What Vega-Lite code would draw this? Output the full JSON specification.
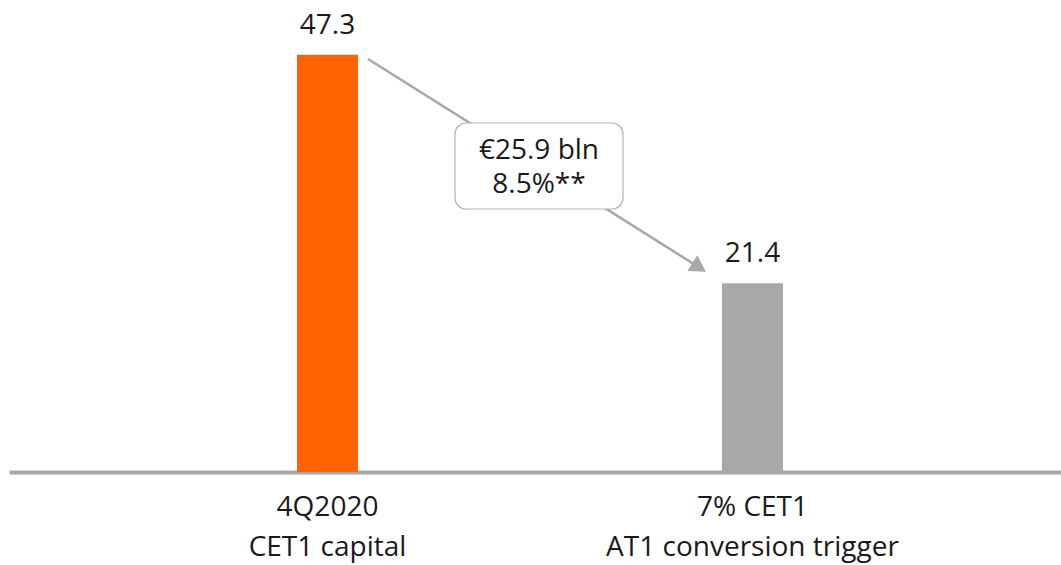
{
  "$schema": "https://vega.github.io/schema/vega-lite/v6.json",
  "width": 1052,
  "height": 472,
  "padding": {"left": 9, "top": 0, "right": 0, "bottom": 93},
  "autosize": {"type": "none"},
  "background": "white",
  "config": {"view": {"stroke": null}, "font": "Open Sans"},
  "datasets": {
    "bars": [
      {"category": "4Q2020|CET1 capital", "value": 47.3, "kind": "current"},
      {"category": "7% CET1|AT1 conversion trigger", "value": 21.4, "kind": "trigger"}
    ],
    "arrow": [
      {"pos": 1.0953, "level": 46.83},
      {"pos": 1.8744, "level": 23.2}
    ],
    "arrowhead": [
      {"pos": 1.8744, "level": 23.2}
    ],
    "box": [
      {"pos": 1.3, "pos2": 1.6953, "level": 39.57, "level2": 29.82, "pos_text": 1.4976, "level_text": 36.4, "label": "€25.9 bln|8.5%**"}
    ]
  },
  "layer": [
    {
      "data": {"name": "bars"},
      "encoding": {
        "x": {
          "field": "category",
          "type": "nominal",
          "sort": null,
          "scale": {"paddingInner": 0.85647, "paddingOuter": 0.6659, "align": 0.5088},
          "axis": {
            "title": null,
            "labelAngle": 0,
            "labelExpr": "split(datum.label, '|')",
            "labelFontSize": 28,
            "labelLineHeight": 40,
            "labelLimit": 0,
            "labelColor": "#1a1a1a",
            "labelPadding": 21,
            "ticks": false,
            "domainColor": "#A8A8A8",
            "domainWidth": 4,
            "grid": false
          }
        },
        "y": {
          "field": "value",
          "type": "quantitative",
          "scale": {"domain": [0, 53.515], "nice": false},
          "axis": null
        }
      },
      "layer": [
        {
          "mark": {"type": "bar"},
          "encoding": {
            "color": {
              "field": "kind",
              "type": "nominal",
              "scale": {"domain": ["current", "trigger"], "range": ["#FF6200", "#A8A8A8"]},
              "legend": null
            }
          }
        },
        {
          "mark": {"type": "text", "dy": -21, "baseline": "alphabetic", "fontSize": 28, "color": "#1a1a1a"},
          "encoding": {"text": {"field": "value", "type": "quantitative", "format": ".1f"}}
        }
      ]
    },
    {
      "layer": [
        {
          "data": {"name": "arrow"},
          "mark": {"type": "line", "color": "#A8A8A8", "strokeWidth": 2.5},
          "encoding": {
            "x": {"field": "pos", "type": "quantitative", "scale": {"domain": [0.25059, 2.72588], "nice": false, "zero": false}, "axis": null},
            "y": {"field": "level", "type": "quantitative", "scale": {"domain": [0, 53.515], "nice": false}, "axis": null}
          }
        },
        {
          "data": {"name": "arrowhead"},
          "mark": {"type": "point", "shape": "triangle-right", "filled": true, "color": "#A8A8A8", "opacity": 1, "size": 340, "angle": 32.3},
          "encoding": {
            "x": {"field": "pos", "type": "quantitative"},
            "y": {"field": "level", "type": "quantitative"}
          }
        },
        {
          "data": {"name": "box"},
          "mark": {"type": "rect", "fill": "white", "stroke": "#B4B4B4", "strokeWidth": 1.2, "cornerRadius": 11},
          "encoding": {
            "x": {"field": "pos", "type": "quantitative"},
            "x2": {"field": "pos2"},
            "y": {"field": "level", "type": "quantitative"},
            "y2": {"field": "level2"}
          }
        },
        {
          "data": {"name": "box"},
          "mark": {"type": "text", "fontSize": 28, "color": "#1a1a1a", "align": "center", "baseline": "middle", "lineBreak": "|", "lineHeight": 34},
          "encoding": {
            "x": {"field": "pos_text", "type": "quantitative"},
            "y": {"field": "level_text", "type": "quantitative"},
            "text": {"field": "label"}
          }
        }
      ]
    }
  ],
  "resolve": {"scale": {"x": "independent"}}
}
